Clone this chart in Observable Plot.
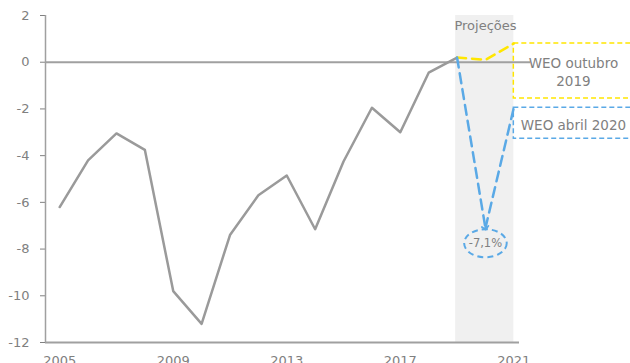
<!DOCTYPE html>
<html>
<head>
<meta charset="utf-8">
<script src="https://cdn.jsdelivr.net/npm/d3@7"></script>
<script src="https://cdn.jsdelivr.net/npm/@observablehq/plot@0.6"></script>
<style>
  html, body { margin: 0; padding: 0; background: #fff; overflow: hidden; }
  #chart { width: 630px; height: 363px; overflow: hidden; }
</style>
</head>
<body>
<div id="chart"></div>
<script>
// ---- data ----
const years = [2005, 2006, 2007, 2008, 2009, 2010, 2011, 2012, 2013, 2014, 2015, 2016, 2017, 2018, 2019];
const balance = [-6.2, -4.2, -3.05, -3.75, -9.8, -11.2, -7.4, -5.7, -4.85, -7.15, -4.25, -1.95, -3.0, -0.45, 0.2];

const projYears = [2019, 2020, 2021];
const weoOct2019 = [0.2, 0.1, 0.8];
const weoApr2020 = [0.2, -7.1, -1.95];

const xTicks = [2005, 2009, 2013, 2017, 2021];
const yTicks = [2, 0, -2, -4, -6, -8, -10, -12];
const xDomain = [2004.5, 2021.2];
const yDomain = [-12, 2];

const bandLabel = "Projeções";
const bandRange = [2018.95, 2021];

const boxLabels = ["WEO outubro\n2019", "WEO abril 2020"];
const boxTops = [0.8, -1.95];
const boxBottoms = [-1.55, -3.28];
const boxColors = ["#ffe600", "#5aa9e6"];
const boxLeft = 2021, boxRight = 2026, boxTextX = 2023.1;
const boxTextY = [-0.39, -2.64];

const calloutLabel = "-7,1%";
const calloutPos = {year: 2020, value: -7.75};

// ---- build tables ----
const hist = years.map((y, i) => ({year: y, value: balance[i]}));
const oct = projYears.map((y, i) => ({year: y, value: weoOct2019[i]}));
const apr = projYears.map((y, i) => ({year: y, value: weoApr2020[i]}));
const boxes = boxLabels.map((l, i) => ({label: l, top: boxTops[i], bottom: boxBottoms[i], color: boxColors[i], ty: boxTextY[i]}));

const gray = "#a0a0a0";
const textGray = "#808080";

const ellipse = {
  draw(ctx, size) {
    const r = Math.sqrt(size / Math.PI);
    const rx = r * 1.52, ry = r, k = 0.5523;
    ctx.moveTo(rx, 0);
    ctx.bezierCurveTo(rx, ry * k, rx * k, ry, 0, ry);
    ctx.bezierCurveTo(-rx * k, ry, -rx, ry * k, -rx, 0);
    ctx.bezierCurveTo(-rx, -ry * k, -rx * k, -ry, 0, -ry);
    ctx.bezierCurveTo(rx * k, -ry, rx, -ry * k, rx, 0);
    ctx.closePath();
  }
};

const chart = Plot.plot({
  width: 630,
  height: 372,
  marginTop: 15,
  marginBottom: 30,
  marginLeft: 45,
  marginRight: 111,
  style: {fontFamily: "'DejaVu Sans', Verdana, sans-serif", fontSize: "13px", color: textGray, background: "white"},
  x: {domain: xDomain, ticks: xTicks, tickFormat: d => String(d), tickSize: 0, tickPadding: 13, label: null},
  y: {domain: yDomain, ticks: yTicks, tickFormat: d => String(d), tickSize: 5, tickPadding: 11, label: null},
  marks: [
    Plot.rect([{x1: bandRange[0], x2: bandRange[1]}], {x1: "x1", x2: "x2", y1: yDomain[0], y2: yDomain[1], fill: "#f0f0f0"}),
    Plot.text([bandLabel], {x: 2020, y: 1.57, text: d => d, fill: textGray, fontSize: 13}),
    Plot.ruleX([xDomain[0]], {y1: yDomain[0], y2: yDomain[1], stroke: gray, strokeWidth: 1.5}),
    Plot.ruleY([yDomain[0]], {x1: xDomain[0], x2: xDomain[1], stroke: gray, strokeWidth: 2}),
    Plot.ruleY([0], {x1: xDomain[0], x2: 2021.6, stroke: gray, strokeWidth: 2}),
    // boxes
    Plot.rect(boxes, {x1: boxLeft, x2: boxRight, y1: "bottom", y2: "top", fill: "none", stroke: "color", strokeWidth: 1.5, strokeDasharray: "5,3"}),
    Plot.text(boxes, {x: boxTextX, y: "ty", text: "label", fill: textGray, fontSize: 13.5, lineHeight: 1.33}),
    // historical line
    Plot.line(hist, {x: "year", y: "value", stroke: "#9a9a9a", strokeWidth: 2.5}),
    // projections
    Plot.line(oct, {x: "year", y: "value", stroke: "#ffe600", strokeWidth: 2.5, strokeDasharray: "9,6"}),
    Plot.line(apr.slice(0, 2), {x: "year", y: "value", stroke: "#5aa9e6", strokeWidth: 2.5, strokeDasharray: "10,6", markerEnd: "arrow"}),
    Plot.line(apr.slice(1), {x: "year", y: "value", stroke: "#5aa9e6", strokeWidth: 2.5, strokeDasharray: "10,6"}),
    // callout
    Plot.dot([calloutPos], {x: "year", y: "value", r: 14, symbol: ellipse, fill: "none", stroke: "#5aa9e6", strokeWidth: 2, strokeDasharray: "6,4"}),
    Plot.text([calloutPos], {x: "year", y: "value", text: () => calloutLabel, fill: textGray, fontSize: 11.5})
  ]
});
d3.select(chart).selectAll("marker").attr("markerWidth", 4.5).attr("markerHeight", 4.5);
d3.select(chart).selectAll("marker path").attr("stroke-dasharray", "none");
document.getElementById("chart").appendChild(chart);
</script>
</body>
</html>
